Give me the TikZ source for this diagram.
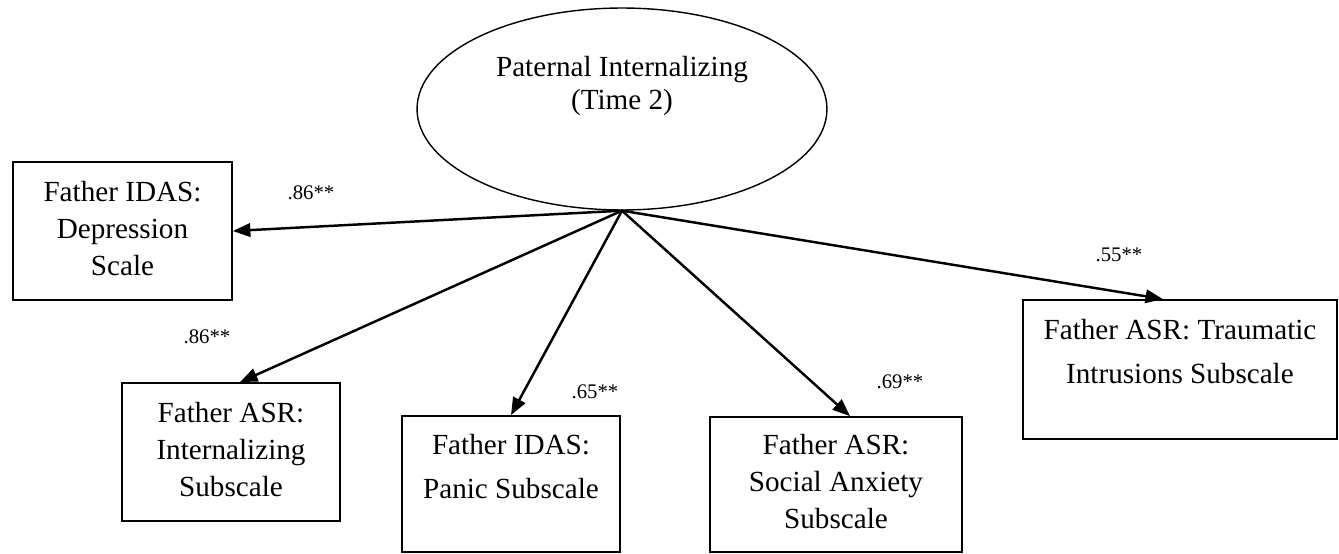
\documentclass[tikz,border=0pt]{standalone}
\usepackage{fontspec}
\setmainfont{Liberation Serif}
\usetikzlibrary{shapes.geometric,arrows.meta}

\begin{document}
\begin{tikzpicture}[x=0.02cm,y=-0.02cm,
  varbox/.style={rectangle,draw,line width=1pt,font=\fontsize{16.6}{21}\selectfont},
  coef/.style={font=\fontsize{11.8}{13}\selectfont},
  loading/.style={-{Triangle[length=0.35cm,width=0.27cm]},line width=1.4pt}]
\useasboundingbox (0,0) rectangle (1339,554);
\begin{scope}
\node (PI) at (622,109) [ellipse,draw,line width=0.8pt,inner sep=0pt,minimum width=8.2cm,minimum height=4.04cm,font=\fontsize{16.6}{19}\selectfont] {\begin{tabular}{c}Paternal Internalizing\\ (Time 2)\\[7pt] ~\end{tabular}};
\node (FDEP) at (122.5,231) [varbox,minimum width=4.38cm,minimum height=2.76cm] {\begin{tabular}{c}Father IDAS:\\ Depression\\ Scale\end{tabular}};
\node (FINT) at (231,452) [varbox,minimum width=4.36cm,minimum height=2.76cm] {\begin{tabular}{c}Father ASR:\\ Internalizing\\ Subscale\end{tabular}};
\node (FPAN) at (511,484) [varbox,minimum width=4.36cm,minimum height=2.72cm] {\begin{tabular}{c}Father IDAS:\\[4pt] Panic Subscale\\[-4pt] ~\end{tabular}};
\node (FSOC) at (836,484.5) [varbox,minimum width=5.04cm,minimum height=2.7cm] {\begin{tabular}{c}Father ASR:\\ Social Anxiety\\ Subscale\end{tabular}};
\node (FTRA) at (1180,369.5) [varbox,minimum width=6.28cm,minimum height=2.78cm] {\begin{tabular}{c}Father ASR: Traumatic\\[4pt] Intrusions Subscale\\[-4pt] ~\end{tabular}};
\node (CDEP) at (311,193) [coef] {.86**};
\node (CINT) at (207,337) [coef] {.86**};
\node (CPAN) at (595,392) [coef] {.65**};
\node (CSOC) at (900,382) [coef] {.69**};
\node (CTRA) at (1119,255) [coef] {.55**};
\draw[loading] (PI.south) -- (FDEP.east);
\draw[loading] (PI.south) -- ([xshift=0.18cm]FINT.north);
\draw[loading] (PI.south) -- (FPAN.north);
\draw[loading] (PI.south) -- ([xshift=0.28cm]FSOC.north);
\draw[loading] (PI.south) -- ([xshift=-0.34cm]FTRA.north);
\end{scope}
\end{tikzpicture}
\end{document}
